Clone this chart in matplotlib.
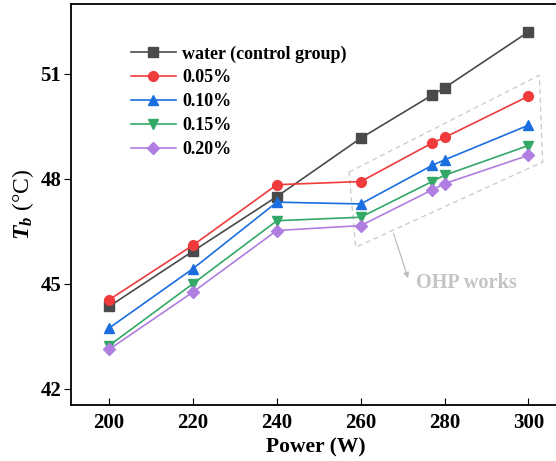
import numpy as np
import matplotlib.pyplot as plt
from matplotlib.patches import Polygon

plt.rcParams['font.family'] = 'Liberation Serif'
plt.rcParams['font.weight'] = 'bold'
plt.rcParams['mathtext.fontset'] = 'custom'
plt.rcParams['mathtext.it'] = 'Liberation Serif:italic:bold'
plt.rcParams['mathtext.rm'] = 'Liberation Serif:bold'

# data
power = [200, 220, 240, 260, 277, 280, 300]
water = [44.35, 45.93, 47.49, 49.16, 50.39, 50.60, 52.20]
c005 = [44.54, 46.10, 47.83, 47.92, 49.02, 49.18, 50.36]
c010 = [43.73, 45.43, 47.33, 47.28, 48.38, 48.54, 49.53]
c015 = [43.23, 45.00, 46.80, 46.90, 47.92, 48.10, 48.95]
c020 = [43.12, 44.76, 46.52, 46.66, 47.68, 47.86, 48.67]

labels = ['water (control group)', '0.05%', '0.10%', '0.15%', '0.20%']
colors = ['#4a4a4a', '#ef3b3b', '#1a6ee0', '#34a866', '#b07ee0']
markers = ['s', 'o', '^', 'v', 'D']
sizes = [6.5, 7, 7.5, 7.5, 6]

fig = plt.figure(figsize=(5.56, 4.61), dpi=100)
ax = fig.add_axes([0.1277, 0.1215, 0.88, 0.870])

for ys, lab, c, m, s in zip([water, c005, c010, c015, c020], labels, colors, markers, sizes):
    ax.plot(power, ys, color=c, marker=m, markersize=s, linewidth=1.2, label=lab)

# OHP region
box = Polygon([(257.2, 48.19), (302.6, 50.96), (303.4, 48.48), (258.8, 46.04)],
              closed=True, fill=False, edgecolor='#c8c8c8', linestyle=(0, (4, 3)), linewidth=0.9)
ax.add_patch(box)
ax.annotate('', xy=(271.5, 45.08), xytext=(267.6, 46.52),
            arrowprops=dict(arrowstyle='-|>', color='#bdbdbd', lw=0.9, mutation_scale=8))
ax.text(273.1, 45.03, 'OHP works', color='#c4c4c4', fontsize=14.6, fontweight='bold',
        ha='left', va='center')

ax.set_xlim(190.9, 307.6)
ax.set_ylim(41.53, 53.0)
ax.set_xticks([200, 220, 240, 260, 280, 300])
ax.set_yticks([42, 45, 48, 51])
ax.tick_params(axis='x', direction='in', length=5, labelsize=15, pad=6)
ax.tick_params(axis='y', direction='out', length=5, labelsize=15, pad=2)
ax.spines['right'].set_visible(False)
for sp in ['left', 'bottom', 'top']:
    ax.spines[sp].set_linewidth(1.3)

ax.set_xlabel('Power (W)', fontsize=15.5, fontweight='bold', labelpad=3)
ax.set_ylabel(r'$T_b$' + ' (°C)', fontsize=17, fontweight='normal', labelpad=3)

ax.legend(loc='upper left', bbox_to_anchor=(0.122, 0.897), frameon=False,
          fontsize=13, handlelength=2.5, handletextpad=0.35, labelspacing=0.38,
          borderpad=0, borderaxespad=0)

fig.savefig('out.png', dpi=100)
